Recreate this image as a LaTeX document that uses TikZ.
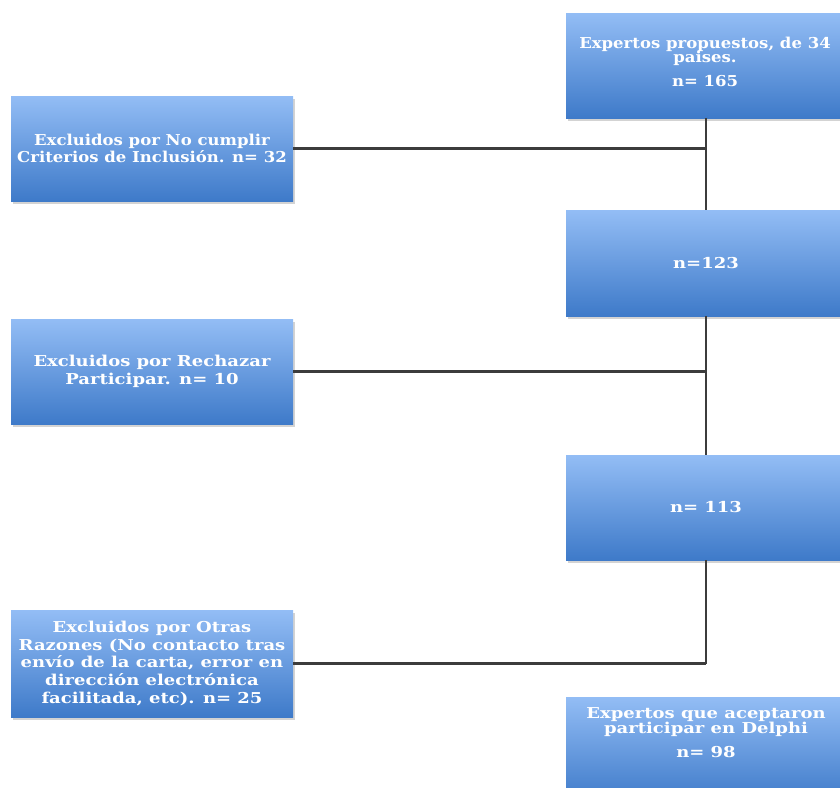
\documentclass[tikz,border=0pt]{standalone}
\usepackage{fontspec}
\setmainfont[FakeStretch=1.2]{DejaVu Serif}
\newfontfamily\narrowserif[FakeStretch=1.1]{DejaVu Serif}
\usetikzlibrary{shadows}
\definecolor{boxtop}{HTML}{93BDF5}
\definecolor{boxbot}{HTML}{3E7AC9}
\definecolor{linec}{HTML}{3C3C3C}
\tikzset{
  flowbox/.style={rectangle, top color=boxtop, bottom color=boxbot, draw=none,
    inner sep=0pt,
    drop shadow={opacity=0.35, shadow xshift=1.5pt, shadow yshift=-2.5pt}},
  boxtext/.style={text=white, font=\bfseries\fontsize{15}{17.7}\selectfont,
    align=center, inner sep=0pt},
  narrowtext/.style={boxtext, font=\narrowserif\bfseries\fontsize{15}{17.7}\selectfont},
  conn/.style={draw=linec, line width=2.2pt}
}
\begin{document}
\begin{tikzpicture}[x=1pt,y=-1pt]
\useasboundingbox (0,0) rectangle (840,787);
\begin{scope}
\clip (0,0) rectangle (840,787);
\node[flowbox, minimum width=280pt, minimum height=105pt] (b1) at (706,65.5) {};
\node[flowbox, minimum width=280pt, minimum height=106pt] (b2) at (706,263) {};
\node[flowbox, minimum width=280pt, minimum height=105pt] (b3) at (706,507.5) {};
\node[flowbox, minimum width=280pt, minimum height=105pt] (b4) at (706,749.5) {};
\node[flowbox, minimum width=282pt, minimum height=105pt] (A) at (152,148.5) {};
\node[flowbox, minimum width=282pt, minimum height=105pt] (B) at (152,371.5) {};
\node[flowbox, minimum width=282pt, minimum height=107pt] (C) at (152,663.5) {};
\node[narrowtext] (b1t) at (705,62) {Expertos propuestos, de 34\\[-4pt] paises.\\[6pt] n= 165};
\node[boxtext] (b2t) at (b2) {n=123};
\node[boxtext] (b3t) at (b3) {n= 113};
\node[boxtext] (b4t) at (706,732.5) {Expertos que aceptaron\\[-2pt] participar en Delphi\\[6pt] n= 98};
\node[narrowtext] (At) at (A) {Excluidos por No cumplir\\ Criterios de Inclusión. n= 32};
\node[boxtext] (Bt) at (B) {Excluidos por Rechazar\\ Participar. n= 10};
\node[boxtext] (Ct) at (C) {Excluidos por Otras\\ Razones (No contacto tras\\ envío de la carta, error en\\ dirección electrónica\\ facilitada, etc). n= 25};
\end{scope}
\coordinate (jA) at (A.east -| b1.south);
\coordinate (jB) at (B.east -| b2.south);
\coordinate (jC) at (C.east -| b3.south);
\draw[conn] (b1.south) -- (b2.north);
\draw[conn] (b2.south) -- (b3.north);
\draw[conn] (b3.south) -- (jC);
\draw[conn] (A.east) -- (jA);
\draw[conn] (B.east) -- (jB);
\draw[conn] (C.east) -- (jC);
\end{tikzpicture}
\end{document}
